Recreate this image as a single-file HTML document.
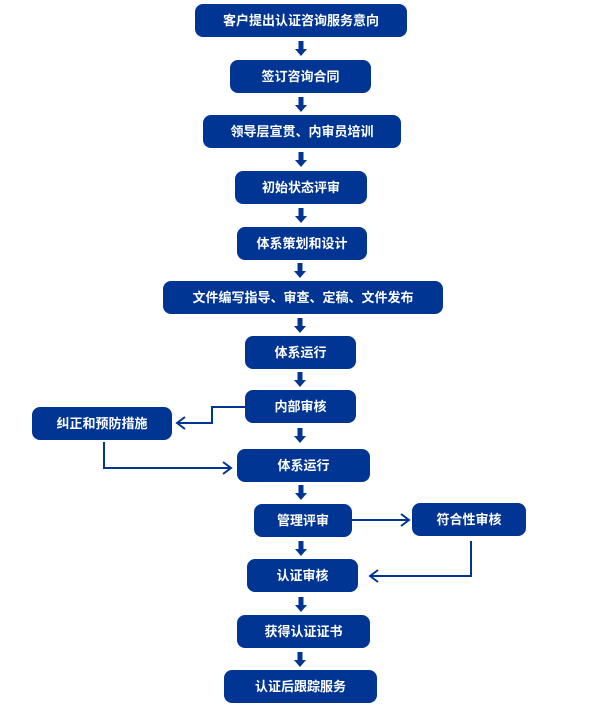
<!DOCTYPE html>
<html><head><meta charset="utf-8"><style>
body{margin:0;background:#fff;}
svg{display:block;}
text{font-family:"Liberation Sans","Noto Sans CJK SC",sans-serif;font-size:13px;font-weight:bold;fill:#fff;text-anchor:middle;dominant-baseline:central;}
</style></head><body>
<svg width="601" height="710" viewBox="0 0 601 710" xmlns="http://www.w3.org/2000/svg">
<defs>
<g id="da"><rect x="-2.5" y="0" width="5" height="9" fill="#003594"/><polygon points="-6,8 6,8 0,15" fill="#003594"/></g>
</defs>
<g fill="#003594">
<rect x="195" y="4" width="212" height="33" rx="8"/>
<rect x="230" y="60" width="141" height="33" rx="8"/>
<rect x="203" y="115" width="198" height="33" rx="8"/>
<rect x="235" y="171" width="132" height="33" rx="8"/>
<rect x="237" y="227" width="130" height="33" rx="8"/>
<rect x="163" y="281" width="280" height="33" rx="8"/>
<rect x="245" y="336" width="111" height="33" rx="8"/>
<rect x="245" y="390" width="111" height="33" rx="8"/>
<rect x="32" y="407" width="140" height="33" rx="8"/>
<rect x="237" y="449" width="133" height="33" rx="8"/>
<rect x="254" y="504" width="98" height="33" rx="8"/>
<rect x="412" y="503" width="114" height="33" rx="8"/>
<rect x="247" y="559" width="111" height="33" rx="8"/>
<rect x="237" y="615" width="133" height="33" rx="8"/>
<rect x="224" y="670" width="153" height="33" rx="8"/>
</g>
<use href="#da" x="301" y="41"/>
<use href="#da" x="301" y="97"/>
<use href="#da" x="301" y="152"/>
<use href="#da" x="301" y="208"/>
<use href="#da" x="300" y="263"/>
<use href="#da" x="300" y="318"/>
<use href="#da" x="300" y="372"/>
<use href="#da" x="300" y="428"/>
<use href="#da" x="301" y="485"/>
<use href="#da" x="301" y="541"/>
<use href="#da" x="301" y="597"/>
<use href="#da" x="300" y="652"/>
<g stroke="#003594" stroke-width="2" fill="none">
<polyline points="245,407 212,407 212,423 178,423"/>
<polyline points="185,417 177,423 185,429"/>
<polyline points="104,442 104,468 230,468"/>
<polyline points="223,462 231,468 223,474"/>
<polyline points="352,520 408,520"/>
<polyline points="401,514 409,520 401,526"/>
<polyline points="471,541 471,576 371,576"/>
<polyline points="378,570 370,576 378,582"/>
</g>
<text x="301" y="20.5">客户提出认证咨询服务意向</text>
<text x="300.5" y="76.5">签订咨询合同</text>
<text x="302" y="131.5">领导层宣贯、内审员培训</text>
<text x="301" y="187.5">初始状态评审</text>
<text x="302" y="243.5">体系策划和设计</text>
<text x="303" y="297.5">文件编写指导、审查、定稿、文件发布</text>
<text x="300.5" y="352.5">体系运行</text>
<text x="300.5" y="406.5">内部审核</text>
<text x="102" y="423.5">纠正和预防措施</text>
<text x="303.5" y="465.5">体系运行</text>
<text x="303" y="520.5">管理评审</text>
<text x="469" y="519.5">符合性审核</text>
<text x="302.5" y="575.5">认证审核</text>
<text x="303.5" y="631.5">获得认证证书</text>
<text x="300.5" y="686.5">认证后跟踪服务</text>
</svg>
</body></html>
